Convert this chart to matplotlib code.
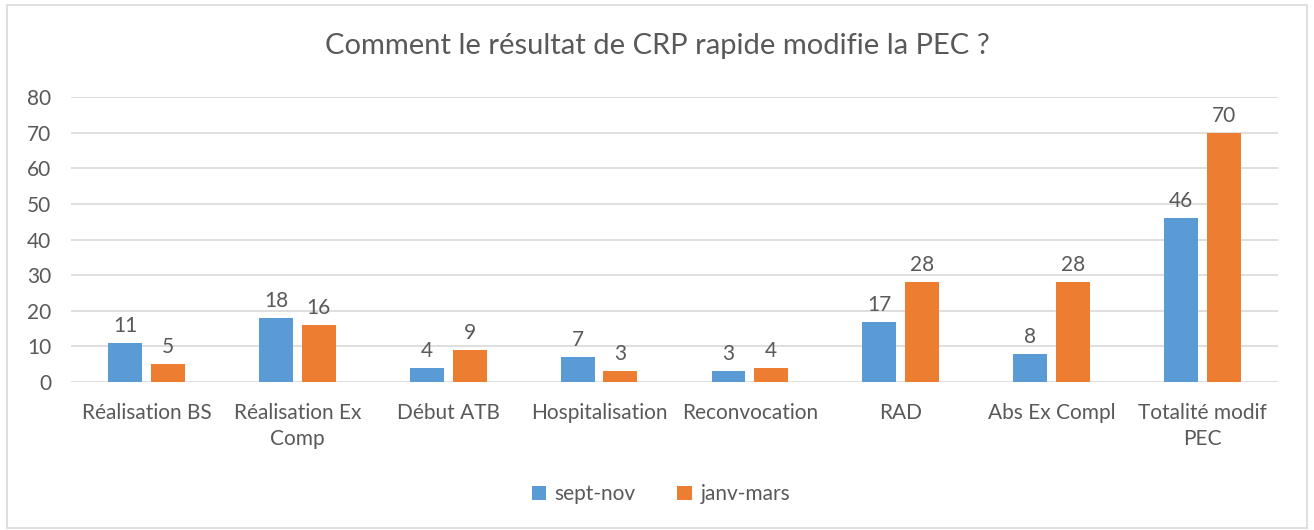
import numpy as np
import matplotlib.pyplot as plt
from matplotlib.patches import Rectangle

plt.rcParams['font.family'] = ['Lato', 'DejaVu Sans']

categories = ['Réalisation BS', 'Réalisation Ex\nComp', 'Début ATB', 'Hospitalisation',
              'Reconvocation', 'RAD', 'Abs Ex Compl', 'Totalité modif\nPEC']
sept_nov = [11, 18, 4, 7, 3, 17, 8, 46]
janv_mars = [5, 16, 9, 3, 4, 28, 28, 70]
series_names = ['sept-nov', 'janv-mars']

gris = '#595959'
bleu = '#5b9bd5'
orange = '#ed7d31'

fig = plt.figure(figsize=(13.14, 5.3), dpi=100)
fig.patches.append(Rectangle((0.005, 0.004), 0.99, 0.986, transform=fig.transFigure,
                             fill=False, edgecolor='#d9d9d9', linewidth=1.2))
ax = fig.add_axes([0.054, 0.279, 0.9186, 0.538])

x = np.arange(len(categories))
w = 0.225
b1 = ax.bar(x - 0.142, sept_nov, w, color=bleu, label=series_names[0], zorder=3)
b2 = ax.bar(x + 0.142, janv_mars, w, color=orange, label=series_names[1], zorder=3)
ax.bar_label(b1, padding=5, fontsize=15, color=gris)
ax.bar_label(b2, padding=5, fontsize=15, color=gris)

ax.set_xlim(-0.5, len(categories) - 0.5)
ax.set_ylim(0, 80)
ax.set_yticks(range(0, 81, 10))
ax.set_xticks(x)
ax.set_xticklabels(categories, fontsize=15, color=gris, linespacing=1.35)
ax.tick_params(axis='y', labelsize=15, labelcolor=gris, length=0, pad=14)
ax.tick_params(axis='x', length=0, pad=15)
ax.grid(axis='y', color='#d9d9d9', linewidth=1.2, zorder=0)
for s in ax.spines.values():
    s.set_visible(False)

fig.suptitle('Comment le résultat de CRP rapide modifie la PEC ?', y=0.938,
             fontsize=21, color=gris)
fig.legend(loc='center', bbox_to_anchor=(0.503, 0.067), ncol=2, frameon=False,
           fontsize=15, labelcolor=gris, handlelength=0.7, handleheight=0.7,
           handletextpad=0.4, columnspacing=2.0)

plt.savefig('out.png', dpi=100)
